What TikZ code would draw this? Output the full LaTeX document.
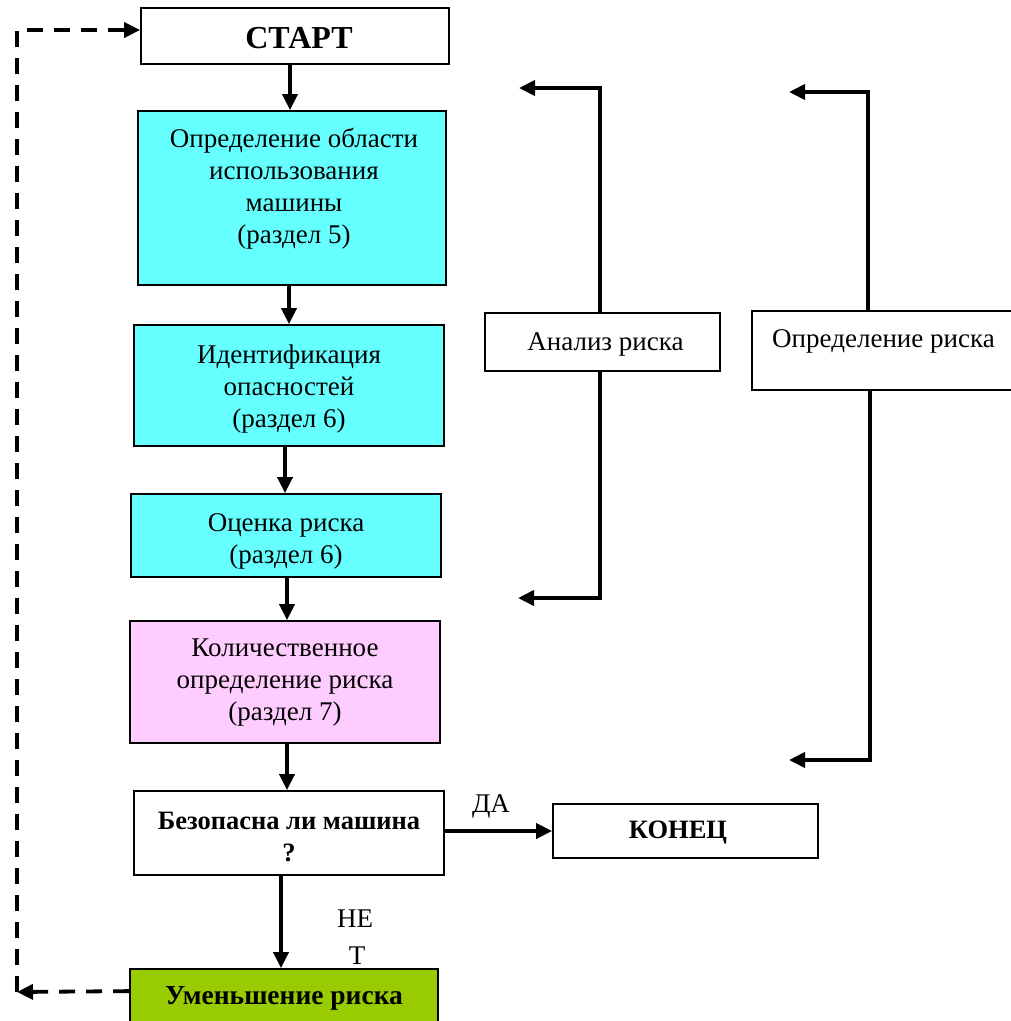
\documentclass[tikz,border=0pt]{standalone}
\usepackage{fontspec}
\setmainfont{Liberation Serif}
\usetikzlibrary{arrows.meta}
\definecolor{cyanbox}{HTML}{66FFFF}
\definecolor{pinkbox}{HTML}{FFCCFF}
\definecolor{greenbox}{HTML}{99CC00}
\begin{document}
\begin{tikzpicture}[x=1pt,y=-1pt,
  box/.style={draw, line width=1.8pt, rectangle, inner sep=0pt},
  txt/.style={font=\fontsize{27}{32}\selectfont, align=center, inner sep=0pt},
  btxt/.style={font=\fontsize{26.5}{32}\selectfont\bfseries, align=center, inner sep=0pt},
  arr/.style={line width=3.8pt, line join=miter, -{Triangle[length=16pt,width=15pt]}},
  dasharr/.style={line width=3.8pt, dash pattern=on 16pt off 11pt, -{Triangle[length=16pt,width=15pt]}}
]
\useasboundingbox (0,0) rectangle (1011,1021);
\clip (0,0) rectangle (1011,1021);

% boxes
\node[box, fill=white, minimum width=308pt, minimum height=56pt] (start) at (295,36) {};
\node[btxt, font=\fontsize{32}{36}\selectfont\bfseries] (startt) at (299,38.5) {СТАРТ};

\node[box, fill=cyanbox, minimum width=308pt, minimum height=174pt] (b1) at (292,198) {};
\node[txt] (b1t) at (294,189) {Определение области\\использования\\машины\\(раздел 5)};

\node[box, fill=cyanbox, minimum width=310pt, minimum height=121pt] (b2) at (289,385.5) {};
\node[txt] (b2t) at (289,388.5) {Идентификация\\опасностей\\(раздел 6)};

\node[box, fill=cyanbox, minimum width=310pt, minimum height=83pt] (b3) at (286,535.5) {};
\node[txt] (b3t) at (286,541) {Оценка риска\\(раздел 6)};

\node[box, fill=pinkbox, minimum width=310pt, minimum height=122pt] (b4) at (285,682) {};
\node[txt] (b4t) at (285,683) {Количественное\\определение риска\\(раздел 7)};

\node[box, fill=white, minimum width=310pt, minimum height=84pt] (b5) at (289,833) {};
\node[btxt] (b5t) at (289,837) {Безопасна ли машина\\?};

\node[box, fill=white, minimum width=265pt, minimum height=54pt] (konec) at (685.5,831) {};
\node[btxt] (konect) at (678,833) {КОНЕЦ};

\node[box, fill=greenbox, minimum width=308pt, minimum height=71pt] (umen) at (284,1004.5) {};
\node[btxt, font=\fontsize{27.5}{32}\selectfont\bfseries] (ument) at (284,998) {Уменьшение риска};

\node[box, fill=white, minimum width=235pt, minimum height=58pt] (analiz) at (602.5,342) {};
\node[txt] (analizt) at (605.5,344) {Анализ риска};

\node[box, fill=white, minimum width=263pt, minimum height=79pt] (oprisk) at (883.5,350.5) {};
\node[txt] (oprisktt) at (883.5,341) {Определение риска};

% labels
\node[txt] (da) at (491,806) {ДА};
\node[txt] (ne) at (355,919) {НЕ};
\node[txt] (net) at (357,956) {Т};

% main flow arrows
\coordinate (s1) at ([xshift=-5pt]start.south);
\draw[arr] (s1) -- (s1 |- b1.north);
\coordinate (s2) at ([xshift=-3pt]b1.south);
\draw[arr] (s2) -- (s2 |- b2.north);
\coordinate (s3) at ([xshift=-4pt]b2.south);
\draw[arr] (s3) -- (s3 |- b3.north);
\coordinate (s4) at ([xshift=1pt]b3.south);
\draw[arr] (s4) -- (s4 |- b4.north);
\coordinate (s5) at ([xshift=2pt]b4.south);
\draw[arr] (s5) -- (s5 |- b5.north);
\coordinate (s6) at ([xshift=-8pt]b5.south);
\draw[arr] (s6) -- (s6 |- umen.north);
\coordinate (s7) at ([yshift=2pt]b5.east);
\draw[arr] (s7) -- (s7 -| konec.west);

% dashed feedback
\coordinate (dl) at (17,992);
\coordinate (dt) at (17,30);
\coordinate (u1) at ([yshift=-23pt]umen.north west);
\draw[dasharr] (u1) -- (dl);
\draw[dasharr] (dl) -- (dt) -- (dt -| start.west);

% brackets
\coordinate (at1) at (519,88);
\coordinate (ab1) at ([xshift=-2.5pt]analiz.north);
\draw[arr] (ab1) -- (ab1 |- at1) -- (at1);
\coordinate (at2) at (518,598);
\coordinate (ab2) at ([xshift=-2.5pt]analiz.south);
\draw[arr] (ab2) -- (ab2 |- at2) -- (at2);

\coordinate (ot1) at (789,92);
\coordinate (ob1) at ([xshift=-15.5pt]oprisk.north);
\draw[arr] (ob1) -- (ob1 |- ot1) -- (ot1);
\coordinate (ot2) at (789,760);
\coordinate (ob2) at ([xshift=-13.5pt]oprisk.south);
\draw[arr] (ob2) -- (ob2 |- ot2) -- (ot2);
\end{tikzpicture}
\end{document}
